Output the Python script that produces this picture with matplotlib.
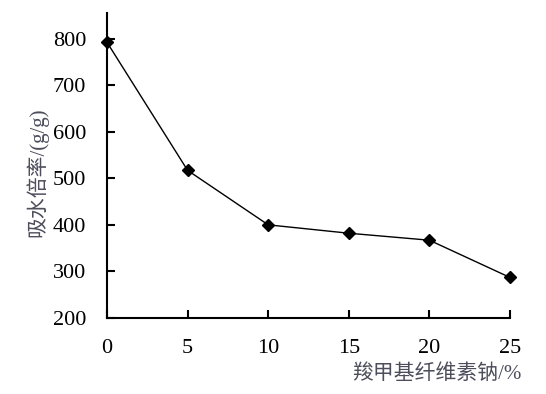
import matplotlib
matplotlib.use("Agg")
import matplotlib.pyplot as plt

## DATA ##
cmc_percent = [0, 5, 10, 15, 20, 25]
absorbency = [792, 517, 400, 382, 367, 287]
x_ticks = [0, 5, 10, 15, 20, 25]
y_ticks = [200, 300, 400, 500, 600, 700, 800]

plt.rcParams['font.family'] = ['Liberation Serif', 'Noto Sans CJK SC']

fig = plt.figure(figsize=(5.46, 3.94), dpi=100)
ax = fig.add_axes([0.196, 0.193, 0.738, 0.774])

ax.plot(cmc_percent, absorbency, color='black', linewidth=1.0, clip_on=False, zorder=5,
        marker='D', markersize=6, markerfacecolor='black', markeredgecolor='black')

ax.set_xlim(0, 25)
ax.set_ylim(200, 855)
ax.set_xticks(x_ticks)
ax.set_yticks(y_ticks)

for side in ['top', 'right']:
    ax.spines[side].set_visible(False)
for side in ['left', 'bottom']:
    ax.spines[side].set_linewidth(1.5)

ax.tick_params(axis='both', direction='in', length=6, width=1.5, labelsize=16)
ax.tick_params(axis='y', pad=15)
ax.tick_params(axis='x', pad=15)

label_color = '#4d4d5c'
fig.text(37/546, 1 - 172/394, '吸水倍率/(g/g)', rotation=90, ha='center', va='center',
         fontsize=15, color=label_color)
fig.text(437/546, 1 - 374/394, '羧甲基纤维素钠/%', ha='center', va='center',
         fontsize=15, color=label_color)

fig.savefig('out.png', dpi=100)
